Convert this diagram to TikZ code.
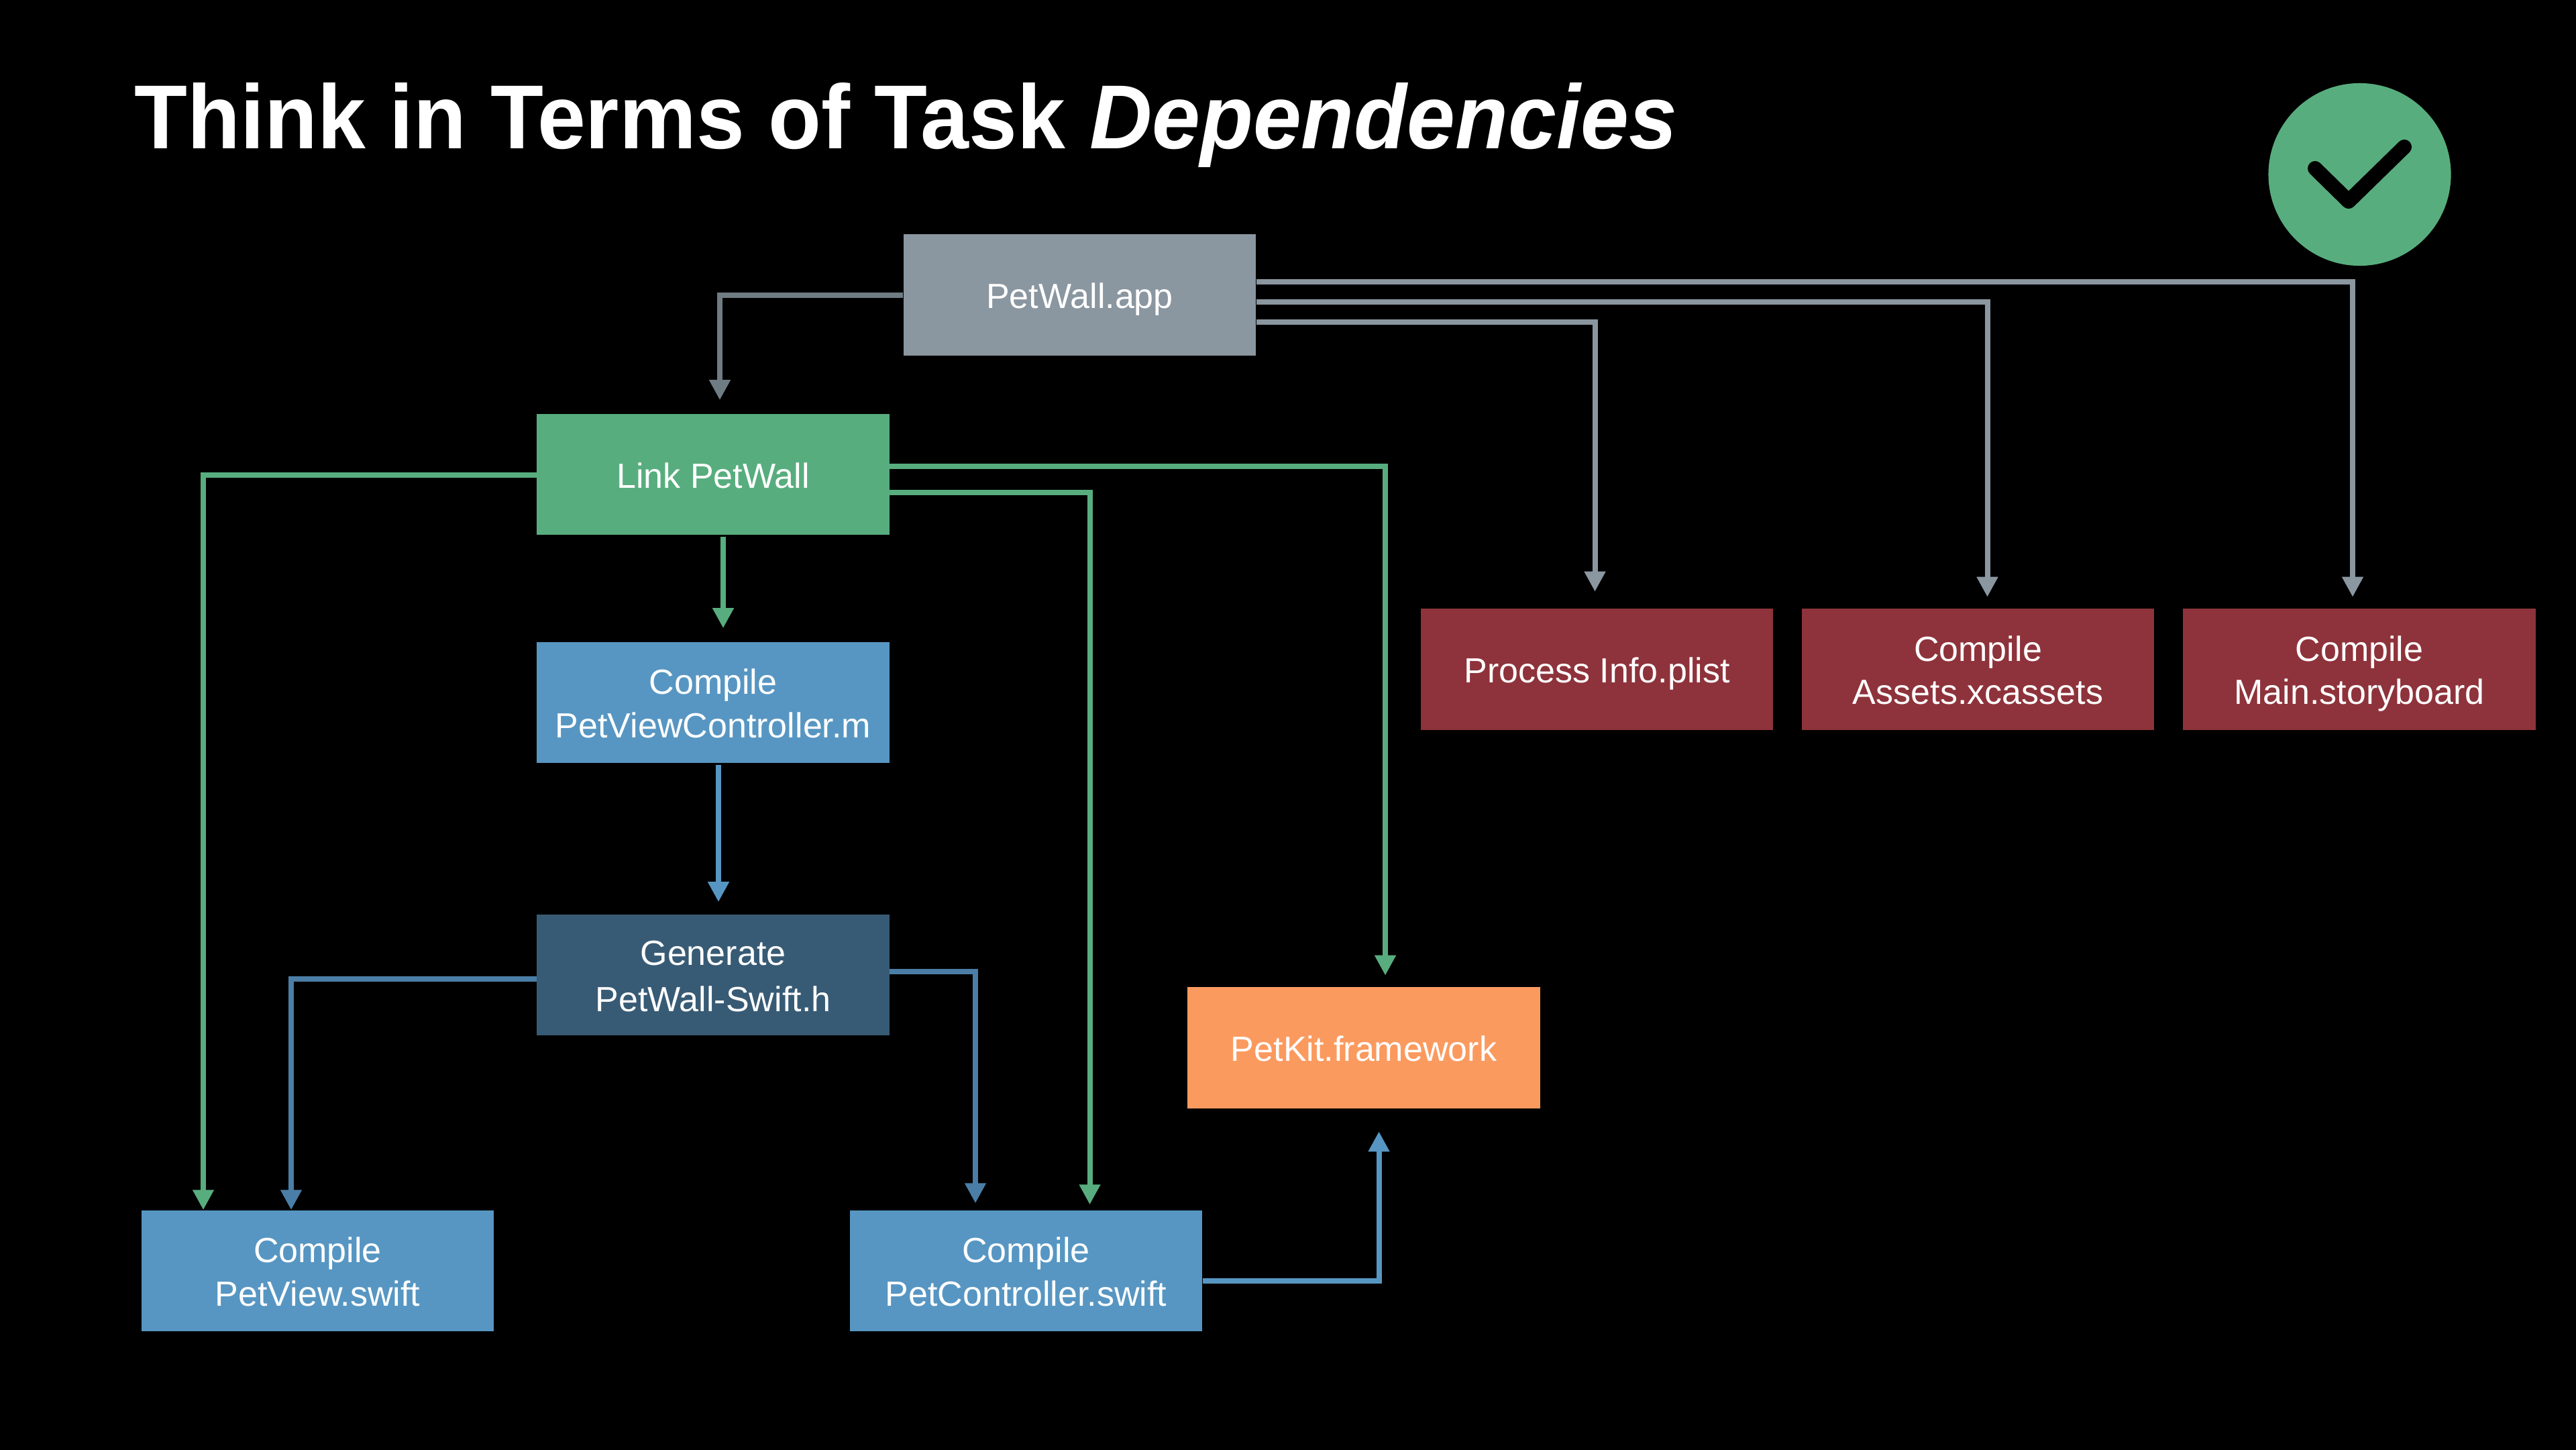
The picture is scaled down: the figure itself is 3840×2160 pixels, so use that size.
\documentclass[tikz,border=0pt]{standalone}
\usepackage{xcolor}
\usepackage{fontspec}
\setmainfont{Liberation Sans}
\newfontfamily\titlefont[FakeStretch=0.954]{Liberation Sans}
\usepackage{tikz}
\usetikzlibrary{arrows.meta,calc}
\definecolor{appgrey}{HTML}{8A96A0}
\definecolor{appdark}{HTML}{707C84}
\definecolor{linkgreen}{HTML}{58AD7E}
\definecolor{swiftblue}{HTML}{5796C2}
\definecolor{lineblue}{HTML}{4A7EA6}
\definecolor{headerblue}{HTML}{385B75}
\definecolor{resred}{HTML}{8E333B}
\definecolor{frameorange}{HTML}{FB9A5F}
\newcommand\tstrut{\rule[-3.5pt]{0pt}{18.4pt}}

\begin{document}
\begin{tikzpicture}[x=0.01cm,y=-0.01cm,
  taskbox/.style={minimum width=5.25cm,minimum height=1.8cm,inner sep=0pt,align=center,text=white,
    font=\fontsize{14.8}{18.4}\selectfont},
  dep/.style={line width=0.08cm,-{Triangle[width=0.3cm,length=0.3cm]}}]
  \useasboundingbox (0,0) rectangle (3840,2160);
  \fill[black] (-20,-20) rectangle (3860,2180);
  \node[anchor=base west,inner sep=0pt,text=white,font=\fontsize{38.5}{46}\titlefont\bfseries] (title) at (200,221) {Think in Terms of Task \textit{Dependencies}};
  \node[circle,fill=linkgreen,minimum size=2.72cm,inner sep=0pt] (okbadge) at (3517.5,260) {};
  \draw[black,line width=0.22cm,line cap=round,line join=round] (3451,251) -- (3501,300) -- (3584,219);
  % boxes
  \foreach \name/\cx/\cy/\txt/\col in {%
    app/1609.5/439.5/{\tstrut PetWall.app}/appgrey,
    link/1063/707/{\tstrut Link PetWall}/linkgreen,
    pvc/1063/1047/{\tstrut Compile\\\tstrut PetViewController.m}/swiftblue,
    gen/1063/1453/{\tstrut Generate\\[1.2pt]\tstrut PetWall-Swift.h}/headerblue,
    pview/473.5/1894/{\tstrut Compile\\\tstrut PetView.swift}/swiftblue,
    pctrl/1529.5/1894/{\tstrut Compile\\\tstrut PetController.swift}/swiftblue,
    kit/2033/1561.5/{\tstrut PetKit.framework}/frameorange,
    plist/2380.5/997.5/{\tstrut Process Info.plist}/resred,
    assets/2948.5/997.5/{\tstrut Compile\\\tstrut Assets.xcassets}/resred,
    story/3517/997.5/{\tstrut Compile\\\tstrut Main.storyboard}/resred%
  }{
    \node[taskbox,fill=\col] (\name) at (\cx,\cy) {\txt};
  }
  % connectors
  \draw[dep,appdark,shorten >=0.2cm] (app.west) -| ($(link.north)+(10,0)$);
  \draw[dep,appgrey,shorten >=0.25cm] ($(app.east)+(0,40)$) -| ($(plist.north)+(-3,0)$);
  \draw[dep,appgrey,shorten >=0.17cm] ($(app.east)+(0,10)$) -| ($(assets.north)+(14,0)$);
  \draw[dep,appgrey,shorten >=0.17cm] ($(app.east)+(0,-20)$) -| ($(story.north)+(-10,0)$);
  \draw[dep,linkgreen] ($(link.west)+(0,1)$) -| ($(pview.north)+(-170.5,0)$);
  \draw[dep,linkgreen,shorten <=0.02cm,shorten >=0.2cm] ($(link.south)+(15,0)$) -- ($(pvc.north)+(15,0)$);
  \draw[dep,linkgreen,shorten >=0.17cm] ($(link.east)+(0,-12)$) -| ($(kit.north)+(32,0)$);
  \draw[dep,linkgreen,shorten >=0.08cm] ($(link.east)+(0,27)$) -| ($(pctrl.north)+(95,0)$);
  \draw[dep,swiftblue,shorten <=0.02cm,shorten >=0.18cm] ($(pvc.south)+(8,0)$) -- ($(gen.north)+(8,0)$);
  \draw[dep,lineblue] ($(gen.west)+(0,6)$) -| ($(pview.north)+(-39.5,0)$);
  \draw[dep,lineblue,shorten >=0.1cm] ($(gen.east)+(0,-5)$) -| ($(pctrl.north)+(-75.5,0)$);
  \draw[dep,swiftblue,shorten >=0.34cm] ($(pctrl.east)+(0,14.5)$) -| ($(kit.south)+(22.5,0)$);
\end{tikzpicture}
\end{document}
